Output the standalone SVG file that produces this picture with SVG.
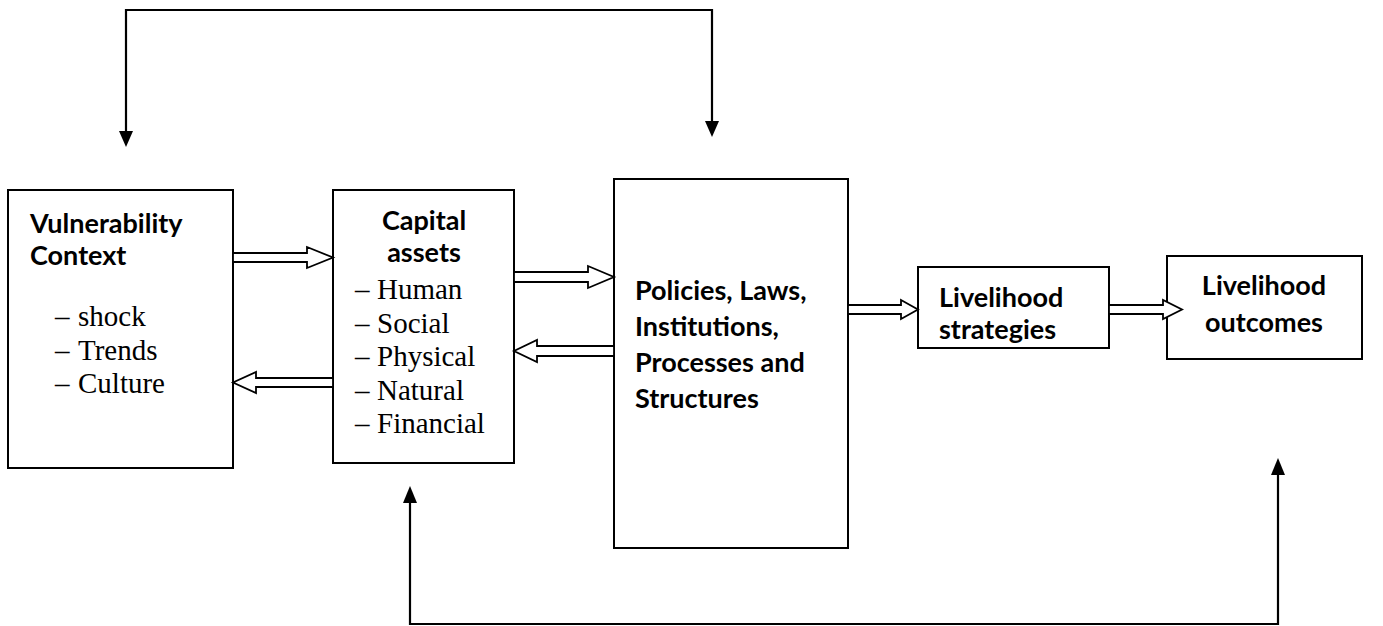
<svg xmlns="http://www.w3.org/2000/svg" width="1383" height="626" viewBox="0 0 1383 626">
<defs>
<style>
.box{fill:#fff;stroke:#000;stroke-width:2}
.h{font-family:Lato,"Open Sans",sans-serif;font-weight:bold;font-size:27px;fill:#000}
.t{font-family:"Liberation Serif","Times New Roman",serif;font-size:29px;fill:#000}
.ha{fill:#fff;stroke:#000;stroke-width:1.8;stroke-linejoin:miter}
.ln{fill:none;stroke:#000;stroke-width:2.2}
</style>
</defs>
<rect width="1383" height="626" fill="#fff"/>
<g id="vulnerability">
<rect class="box" x="8" y="190" width="225" height="278"/>
<text class="h" x="30" y="233">Vulnerability</text>
<text class="h" x="30" y="265">Context</text>
<text class="t"><tspan x="55" y="326">–</tspan><tspan x="78" y="326">shock</tspan></text>
<text class="t"><tspan x="55" y="360">–</tspan><tspan x="78" y="360">Trends</tspan></text>
<text class="t"><tspan x="55" y="393">–</tspan><tspan x="78" y="393">Culture</tspan></text>
</g>
<g id="capital">
<rect class="box" x="333" y="190" width="181" height="273"/>
<text class="h" x="424" y="230" text-anchor="middle">Capital</text>
<text class="h" x="424" y="262" text-anchor="middle">assets</text>
<text class="t"><tspan x="355" y="299">–</tspan><tspan x="377" y="299">Human</tspan></text>
<text class="t"><tspan x="355" y="333">–</tspan><tspan x="377" y="333">Social</tspan></text>
<text class="t"><tspan x="355" y="366">–</tspan><tspan x="377" y="366">Physical</tspan></text>
<text class="t"><tspan x="355" y="400">–</tspan><tspan x="377" y="400">Natural</tspan></text>
<text class="t"><tspan x="355" y="433">–</tspan><tspan x="377" y="433">Financial</tspan></text>
</g>
<g id="policies">
<rect class="box" x="614" y="179" width="234" height="369"/>
<text class="h" x="635" y="300">Policies, Laws,</text>
<text class="h" x="635" y="336">Institutions,</text>
<text class="h" x="635" y="372">Processes and</text>
<text class="h" x="635" y="408">Structures</text>
</g>
<g id="strategies">
<rect class="box" x="918" y="267" width="191" height="81"/>
<text class="h" x="939" y="307">Livelihood</text>
<text class="h" x="939" y="339">strategies</text>
</g>
<g id="outcomes">
<rect class="box" x="1167" y="256" width="195" height="103"/>
<text class="h" x="1264" y="295" text-anchor="middle">Livelihood</text>
<text class="h" x="1264" y="332" text-anchor="middle">outcomes</text>
</g>
<g id="connectors">
<polygon class="ha" points="233,253 307,253 307,247 333,257.5 307,268 307,262 233,262"/>
<polygon class="ha" points="333,378 256,378 256,372 233,382.5 256,393 256,387 333,387"/>
<polygon class="ha" points="514,272 588,272 588,266 614,277 588,288 588,282 514,282"/>
<polygon class="ha" points="614,346 537,346 537,340 514,351 537,362 537,356 614,356"/>
<polygon class="ha" points="848,305 901,305 901,300 918,309.5 901,319 901,314 848,314"/>
<polygon class="ha" points="1109,305 1163,305 1163,300 1182,309.5 1163,319 1163,314 1109,314"/>
<polyline class="ln" points="126,132 126,10 712,10 712,122"/>
<polygon points="119,131 133,131 126,147"/>
<polygon points="705,121 719,121 712,137"/>
<polyline class="ln" points="410,502 410,624 1278,624 1278,474"/>
<polygon points="403,503 417,503 410,486"/>
<polygon points="1271,475 1285,475 1278,458"/>
</g>
</svg>
